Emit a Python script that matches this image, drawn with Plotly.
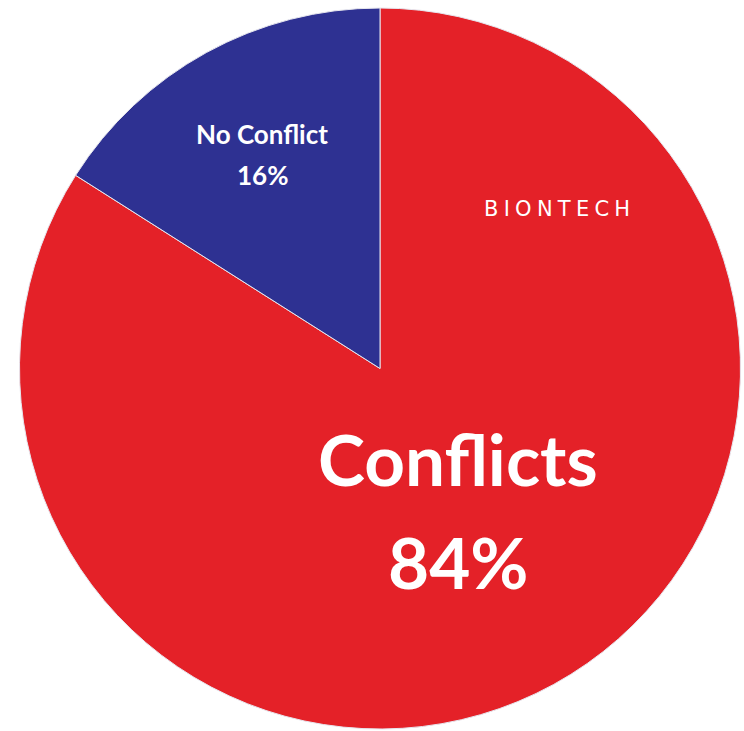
import plotly.graph_objects as go

labels = ["Conflicts", "No Conflict"]
values = [84, 16]
colors = ["#E42128", "#2E3192"]
brand = "BIONTECH"

W, H = 744, 731

fig = go.Figure(go.Pie(
    labels=labels,
    values=values,
    sort=False,
    direction="clockwise",
    rotation=0,
    marker=dict(colors=colors, line=dict(color="#E6E6EE", width=1)),
    textinfo="none",
    hoverinfo="label+percent",
    showlegend=False,
    domain=dict(x=[19 / W, 741 / W], y=[1 - 729 / H, 1 - 8 / H]),
))

def px(x, y):
    return x / W, 1 - y / H

font = "Lato"
anns = [
    (labels[0], 458, 458, 71),
    (f"{values[0]}%", 458, 561, 71),
    (labels[1], 262, 134, 26),
    (f"{values[1]}%", 262, 175, 26),
]
for txt, x, y, s in anns:
    ax, ay = px(x, y)
    fig.add_annotation(x=ax, y=ay, xref="paper", yref="paper", text=txt,
                       showarrow=False, xanchor="center", yanchor="middle",
                       font=dict(family=font, size=s, color="white", weight="bold"))

bx, by = px(557, 209)
fig.add_annotation(x=bx, y=by, xref="paper", yref="paper",
                   text="\u2005".join(brand), showarrow=False,
                   xanchor="center", yanchor="middle",
                   font=dict(family="DejaVu Sans", size=21, color="white", weight="normal"))

fig.update_layout(width=W, height=H, margin=dict(l=0, r=0, t=0, b=0),
                  paper_bgcolor="white", plot_bgcolor="white")

fig.write_html("out.html", config={"displayModeBar": False},
               post_script="document.body.style.margin='0';document.body.style.overflow='hidden';")
